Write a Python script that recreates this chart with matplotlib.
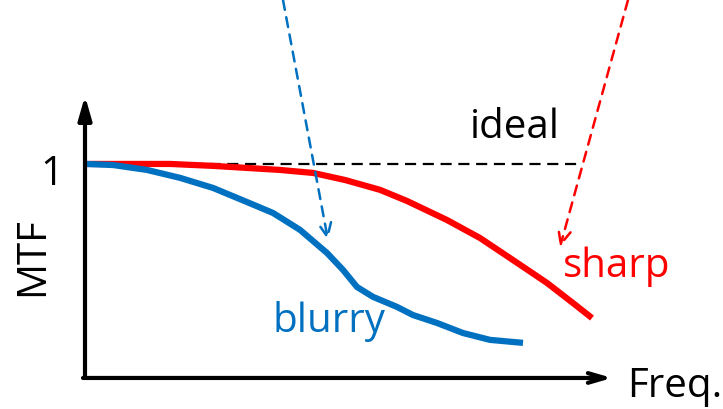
import numpy as np
import matplotlib.pyplot as plt

plt.rcParams['font.family'] = ['Open Sans', 'DejaVu Sans']

""" data """
# sharp system: MTF vs normalised frequency
sharp_freq = [0, 0.17, 0.256, 0.39, 0.456, 0.52, 0.59, 0.644, 0.724, 0.79,
              0.856, 0.924, 0.976, 1.014]
sharp_mtf = [1.0, 1.0, 0.991, 0.972, 0.958, 0.925, 0.879, 0.827, 0.738, 0.654,
             0.551, 0.444, 0.350, 0.280]

# blurry system
blurry_freq = [0, 0.056, 0.124, 0.19, 0.256, 0.324, 0.376, 0.43, 0.484, 0.516,
               0.544, 0.576, 0.624, 0.656, 0.704, 0.756, 0.81, 0.876]
blurry_mtf = [1.0, 0.995, 0.972, 0.935, 0.888, 0.822, 0.771, 0.692, 0.584, 0.505,
              0.425, 0.379, 0.332, 0.294, 0.257, 0.210, 0.178, 0.164]

# ideal system
ideal_freq = [0, 0.99]
ideal_mtf = [1.0, 1.0]

blue = '#0070C0'
red = '#FF0000'

""" figure """
fig = plt.figure(figsize=(7.23, 4.09), dpi=100)
ax = fig.add_axes([0, 0, 1, 1])
ax.set_xlim(-0.17, 1.276)
ax.set_ylim(-0.145, 1.766)
ax.axis('off')

# axes with arrows
ax.annotate('', xy=(0, 1.318), xytext=(0, 0),
            arrowprops=dict(arrowstyle='-|>,head_length=1.4,head_width=0.4',
                            color='black', lw=3, shrinkA=0, shrinkB=0))
ax.annotate('', xy=(1.054, 0), xytext=(-0.004, 0),
            arrowprops=dict(arrowstyle='->,head_length=1.2,head_width=0.35',
                            color='black', lw=3, shrinkA=0, shrinkB=0))

# curves
ax.plot(ideal_freq, ideal_mtf, color='black', lw=1.6, ls=(0, (5, 3)))
ax.plot(sharp_freq, sharp_mtf, color=red, lw=4.5, solid_capstyle='butt',
        solid_joinstyle='round')
ax.plot(blurry_freq, blurry_mtf, color=blue, lw=4.5, solid_capstyle='butt',
        solid_joinstyle='round')

# dashed pointers
ax.annotate('', xy=(0.486, 0.645), xytext=(0.396, 1.766),
            arrowprops=dict(arrowstyle='->,head_length=1.0,head_width=0.45',
                            color=blue, lw=1.8, ls=(0, (4, 3)),
                            shrinkA=0, shrinkB=0))
ax.annotate('', xy=(0.95, 0.612), xytext=(1.086, 1.766),
            arrowprops=dict(arrowstyle='->,head_length=1.0,head_width=0.45',
                            color=red, lw=1.8, ls=(0, (4, 3)),
                            shrinkA=0, shrinkB=0))

# labels
fs = 29
ax.text(-0.044, 0.95, '1', fontsize=fs, ha='right', va='center')
ax.text(-0.104, 0.565, 'MTF', fontsize=fs, rotation=90, ha='center', va='center')
ax.text(1.084, -0.089, 'Freq.', fontsize=fs, ha='left', va='baseline')
ax.text(0.77, 1.121, 'ideal', fontsize=fs, ha='left', va='baseline')
ax.text(0.956, 0.472, 'sharp', fontsize=fs, ha='left', va='baseline', color=red)
ax.text(0.374, 0.215, 'blurry', fontsize=fs, ha='left', va='baseline', color=blue)

fig.savefig('out.png', dpi=100)
